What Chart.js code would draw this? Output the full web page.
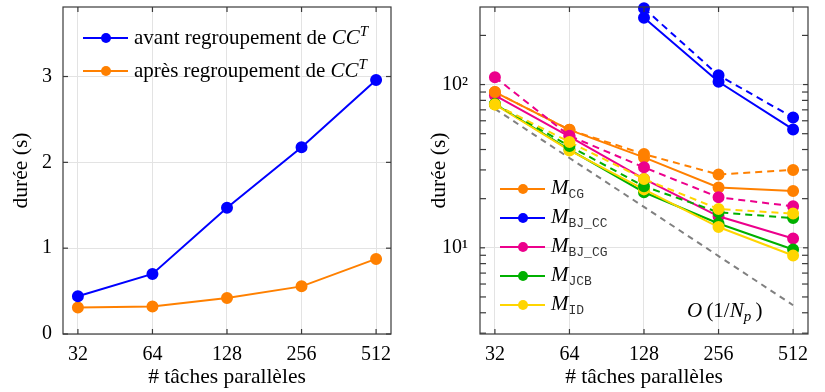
<!DOCTYPE html>
<html lang="fr">
<head>
<meta charset="utf-8">
<title>Durée en fonction du nombre de tâches parallèles</title>
<script src="https://cdn.jsdelivr.net/npm/chart.js@4/dist/chart.umd.min.js"></script>
<style>
  body { margin: 0; background: #fff; }
  #wrap { position: relative; width: 825px; height: 392px; font-family: "Liberation Serif", serif; }
  .panel { position: absolute; top: 0; height: 392px; }
  .legend { position: absolute; font-size: 21px; color: #000; white-space: nowrap; }
  .legend .row { display: flex; align-items: center; }
  .legend .sample { position: relative; width: 45px; height: 2px; margin-right: 6px; flex: none; }
  .legend .sample span { position: absolute; left: 50%; top: 50%; width: 10px; height: 10px; margin: -5px 0 0 -5px; border-radius: 50%; }
  .legend sub { font-family: "Liberation Mono", monospace; font-size: 13px; color: #333; vertical-align: -4px; }
  .legend sup { font-size: 15px; vertical-align: 8px; line-height: 0; }
  #legL { left: 83px; top: 21px; }
  #legL .row { height: 33px; }
  #legR { left: 500px; top: 174px; }
  #legR .row { height: 29px; }
  #onp { position: absolute; left: 687px; top: 298px; font-size: 21px; line-height: 24px; white-space: nowrap; }
  #onp sub { font-size: 15px; vertical-align: -4px; line-height: 0; }
</style>
</head>
<body>
<div id="wrap">
  <div class="panel" style="left:0;width:420px"><canvas id="chartAvantApres"></canvas></div>
  <div class="panel" style="left:420px;width:405px"><canvas id="chartMethodes"></canvas></div>
  <div class="legend" id="legL"></div>
  <div class="legend" id="legR"></div>
  <div id="onp"><i>O</i>&thinsp;(1/<i>N</i><sub><i>p</i></sub>&thinsp;)</div>
</div>
<script>
// nombre de tâches parallèles
const counts = [32, 64, 128, 256, 512];

// figure de gauche (durée en s)
const dureeAvant = [0.44, 0.70, 1.47, 2.175, 2.96];
const dureeApres = [0.31, 0.32, 0.42, 0.555, 0.875];
const leftYTicks = [0, 1, 2, 3];

// figure de droite (durée en s, échelle log)
const methodes = ["CG", "BJ_CC", "BJ_CG", "JCB", "ID"];
const dureeTrait = [
    [90, 52.8, 35.8, 23.4, 22.3],        // M_CG
    [null, null, 257, 104, 53.1],        // M_BJ_CC
    [86, 48, 26.4, 15.6, 11.4],          // M_BJ_CG
    [76, 40, 21.9, 14.1, 9.76],          // M_JCB
    [75.5, 39.5, 22.8, 13.4, 8.97]       // M_ID
];
const dureePointille = [
    [90, 52.8, 37.5, 28.1, 30.0],
    [null, null, 293, 114, 62.8],
    [111, 48.5, 31.1, 20.4, 17.95],
    [76, 42, 23.8, 16.5, 15.2],
    [75.5, 44.5, 26.4, 17.3, 16.2]
];
const refUnSurNp = [71, 35.5, 17.8, 8.9, 4.45];
const rightYTicks = [10, 100];

const couleurs = ["#ff8000", "#0000ff", "#ec008c", "#00b000", "#ffd500"];

Chart.defaults.font.family = '"Liberation Serif", serif';
Chart.defaults.font.size = 20;
Chart.defaults.color = "#000";

function points(values) {
    return counts.map((c, i) => ({ x: c, y: values[i] }));
}

function serie(values, color, dashed, legendHtml) {
    return {
        data: points(values),
        borderColor: color,
        backgroundColor: color,
        pointBackgroundColor: color,
        pointBorderColor: color,
        borderWidth: 2,
        borderDash: dashed ? [7, 5] : [],
        pointRadius: 5,
        pointHoverRadius: 5,
        tension: 0,
        clip: 8,
        legendHtml: legendHtml
    };
}

// légende en HTML pour garder l'italique et les indices
const htmlLegend = {
    id: "htmlLegend",
    afterUpdate(chart, args, opts) {
        const box = document.getElementById(opts.containerID);
        box.innerHTML = "";
        chart.data.datasets.forEach(ds => {
            if (!ds.legendHtml) return;
            const row = document.createElement("div");
            row.className = "row";
            const sample = document.createElement("div");
            sample.className = "sample";
            sample.style.background = ds.borderColor;
            const dot = document.createElement("span");
            dot.style.background = ds.pointBackgroundColor;
            sample.appendChild(dot);
            const txt = document.createElement("div");
            txt.innerHTML = ds.legendHtml;
            row.appendChild(sample);
            row.appendChild(txt);
            box.appendChild(row);
        });
    }
};

// cadre et graduations intérieures façon pgfplots
const frame = {
    id: "frame",
    afterDatasetsDraw(chart, args, opts) {
        const { ctx, chartArea: { left, right, top, bottom }, scales: { x, y } } = chart;
        const seg = (x1, y1, x2, y2) => { ctx.beginPath(); ctx.moveTo(x1, y1); ctx.lineTo(x2, y2); ctx.stroke(); };
        ctx.save();
        ctx.strokeStyle = "#3a3a3a";
        ctx.lineWidth = 1.2;
        x.ticks.forEach(t => {
            const px = x.getPixelForValue(t.value);
            seg(px, bottom, px, bottom - 5);
            seg(px, top, px, top + 5);
        });
        y.ticks.forEach(t => {
            const py = y.getPixelForValue(t.value);
            seg(left, py, left + 5, py);
            seg(right, py, right - 5, py);
        });
        if (opts.minorLog) {
            for (let e = 0; e <= 2; e++) {
                for (let k = 2; k <= 9; k++) {
                    const v = k * Math.pow(10, e);
                    if (v < y.min || v > y.max) continue;
                    const py = y.getPixelForValue(v);
                    seg(left, py, left + 6, py);
                    seg(right, py, right - 6, py);
                }
            }
        }
        ctx.strokeRect(left, top, right - left, bottom - top);
        ctx.restore();
    }
};

function axeX() {
    return {
        type: "logarithmic",
        min: counts[0] / Math.pow(2, 0.2),
        max: counts[counts.length - 1] * Math.pow(2, 0.2),
        afterBuildTicks: s => { s.ticks = counts.map(v => ({ value: v })); },
        afterFit: s => { s.height = 58; s.paddingLeft = 0; s.paddingRight = 0; },
        ticks: { padding: 9, maxRotation: 0, autoSkip: false, callback: v => String(v) },
        grid: { color: "#e3e3e3", drawTicks: false },
        border: { display: false },
        title: { display: true, text: "# tâches parallèles", font: { size: 21.5 }, padding: { top: 0, bottom: 2 } }
    };
}

const commun = {
    responsive: true,
    maintainAspectRatio: false,
    animation: false,
    events: [],
    plugins: { legend: { display: false }, tooltip: { enabled: false } }
};

document.addEventListener("DOMContentLoaded", function () {
    new Chart(document.getElementById("chartAvantApres").getContext("2d"), {
        type: "line",
        data: {
            datasets: [
                serie(dureeAvant, couleurs[1], false, "avant regroupement de <i>CC</i><sup><i>T</i></sup>"),
                serie(dureeApres, couleurs[0], false, "après regroupement de <i>CC</i><sup><i>T</i></sup>")
            ]
        },
        options: {
            ...commun,
            layout: { padding: { top: 5, right: 29, left: 0, bottom: 0 } },
            plugins: { ...commun.plugins, htmlLegend: { containerID: "legL" }, frame: { minorLog: false } },
            scales: {
                x: axeX(),
                y: {
                    type: "linear",
                    min: 0,
                    max: 3.81,
                    afterBuildTicks: s => { s.ticks = leftYTicks.map(v => ({ value: v })); },
                    afterFit: s => { s.width = 63; s.paddingTop = 0; s.paddingBottom = 0; },
                    ticks: { padding: 11, callback: v => String(v) },
                    grid: { color: "#e3e3e3", drawTicks: false },
                    border: { display: false },
                    title: { display: true, text: "durée (s)", font: { size: 21.5 }, padding: { top: 8, bottom: 0 } }
                }
            }
        },
        plugins: [htmlLegend, frame]
    });

    const datasets = [serie(refUnSurNp, "#808080", true, null)];
    datasets[0].pointRadius = 0;
    datasets[0].borderDash = [6, 5];
    methodes.forEach((m, i) => {
        datasets.push(serie(dureeTrait[i], couleurs[i], false, "<i>M</i><sub>" + m + "</sub>"));
    });
    methodes.forEach((m, i) => {
        datasets.push(serie(dureePointille[i], couleurs[i], true, null));
    });
    // les dernières séries sont dessinées au-dessus
    datasets.forEach((ds, i) => { ds.order = datasets.length - i; });

    const sup = { 1: "\u00b9", 2: "\u00b2" };
    new Chart(document.getElementById("chartMethodes").getContext("2d"), {
        type: "line",
        data: { datasets: datasets },
        options: {
            ...commun,
            layout: { padding: { top: 6, right: 17, left: 0, bottom: 0 } },
            plugins: { ...commun.plugins, htmlLegend: { containerID: "legR" }, frame: { minorLog: true } },
            scales: {
                x: axeX(),
                y: {
                    type: "logarithmic",
                    min: 2.965,
                    max: 298.6,
                    afterBuildTicks: s => { s.ticks = rightYTicks.map(v => ({ value: v })); },
                    afterFit: s => { s.width = 60; s.paddingTop = 0; s.paddingBottom = 0; },
                    ticks: { padding: 12, callback: v => "10" + sup[Math.round(Math.log10(v))] },
                    grid: { color: "#e3e3e3", drawTicks: false },
                    border: { display: false },
                    title: { display: true, text: "durée (s)", font: { size: 21.5 }, padding: { top: 6, bottom: 0 } }
                }
            }
        },
        plugins: [htmlLegend, frame]
    });
});
</script>
</body>
</html>
